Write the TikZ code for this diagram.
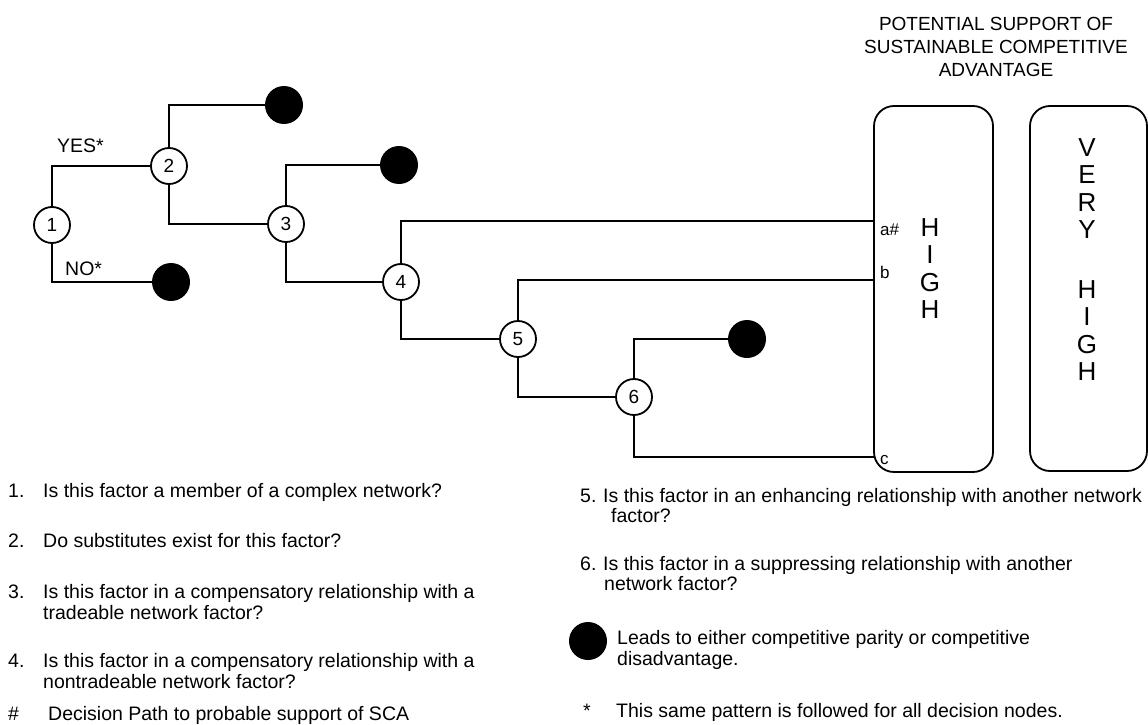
\documentclass[tikz,border=0pt]{standalone}
\usepackage{fontspec}
\setmainfont{Liberation Sans}
\begin{document}
\begin{tikzpicture}[x=1pt,y=-1pt,
  dec/.style={draw, circle, line width=1.8pt, minimum size=36pt, inner sep=0pt, fill=white, font=\fontsize{19}{19}\selectfont},
  endpt/.style={circle, fill=black, minimum size=38pt, inner sep=0pt},
  conn/.style={line width=1.8pt},
  txt/.style={anchor=base west, inner sep=0pt, font=\fontsize{19.5}{21}\selectfont},
  lbl/.style={anchor=base west, inner sep=0pt, font=\fontsize{17}{17}\selectfont},
  bigl/.style={anchor=north, align=center, inner sep=0pt, font=\fontsize{26}{27.5}\selectfont},
  outbox/.style={draw, line width=1.8pt, rounded corners=20pt, inner sep=0pt}
]
\useasboundingbox (0,0) rectangle (1148,725);

% title
\node[anchor=north, align=center, inner sep=0pt, font=\fontsize{19}{23}\selectfont] (title) at (996,17)
  {POTENTIAL SUPPORT OF\\SUSTAINABLE COMPETITIVE\\ADVANTAGE};

% outcome boxes
\node[outbox, minimum width=119pt, minimum height=366pt] (high) at (933.5,289) {};
\node[outbox, minimum width=117pt, minimum height=365pt] (vhigh) at (1088.5,288.5) {};
\node[bigl] (hightxt) at (930,218) {H\\I\\G\\H};
\node[bigl] (vhightxt) at (1087,138) {V\\E\\R\\Y\\[32pt]H\\I\\G\\H};

\coordinate (pa) at (874,221);
\coordinate (pb) at (874,280);
\coordinate (pc) at (874,457);
\node[lbl] (la) at (880,235) {a\#};
\node[lbl] (lb) at (880,278) {b};
\node[lbl] (lc) at (880,464) {c};

% decision nodes
\node[dec] (n1) at (52,225) {1};
\node[dec] (n2) at (169,166) {2};
\node[dec] (n3) at (286,224) {3};
\node[dec] (n4) at (401,282) {4};
\node[dec] (n5) at (518,339) {5};
\node[dec] (n6) at (634,397) {6};

% terminal (filled) nodes
\node[endpt] (d1) at (171,282) {};
\node[endpt] (d2) at (284,105) {};
\node[endpt] (d3) at (399,165) {};
\node[endpt] (d6) at (747,339) {};

% connectors
\draw[conn] (n1.north) |- (n2.west);
\draw[conn] (n1.south) |- (d1.west);
\draw[conn] (n2.north) |- (d2.west);
\draw[conn] (n2.south) |- (n3.west);
\draw[conn] (n3.north) |- (d3.west);
\draw[conn] (n3.south) |- (n4.west);
\draw[conn] (n4.north) |- (pa);
\draw[conn] (n4.south) |- (n5.west);
\draw[conn] (n5.north) |- (pb);
\draw[conn] (n5.south) |- (n6.west);
\draw[conn] (n6.north) |- (d6.west);
\draw[conn] (n6.south) |- (pc);

\node[txt] (yes) at (57,152) {YES*};
\node[txt] (no) at (65,275) {NO*};

% legend left column
\node[txt] (q1n) at (8,497) {1.};
\node[txt] (q1) at (43,497) {Is this factor a member of a complex network?};
\node[txt] (q2n) at (8,547) {2.};
\node[txt] (q2) at (43,547) {Do substitutes exist for this factor?};
\node[txt] (q3n) at (8,598) {3.};
\node[txt] (q3) at (43,598) {Is this factor in a compensatory relationship with a};
\node[txt] (q3b) at (43,619) {tradeable network factor?};
\node[txt] (q4n) at (8,667) {4.};
\node[txt] (q4) at (43,667) {Is this factor in a compensatory relationship with a};
\node[txt] (q4b) at (43,688) {nontradeable network factor?};
\node[txt] (hashn) at (8,720) {\#};
\node[txt] (hash) at (48,720) {Decision Path to probable support of SCA};

% legend right column
\node[txt] (q5n) at (580,502) {5.};
\node[txt] (q5) at (603,502) {Is this factor in an enhancing relationship with another network};
\node[txt] (q5b) at (611,522) {factor?};
\node[txt] (q6n) at (580,570) {6.};
\node[txt] (q6) at (603,570) {Is this factor in a suppressing relationship with another};
\node[txt] (q6b) at (604,590) {network factor?};
\node[endpt] (legdot) at (588,641) {};
\node[txt] (leg1) at (617,644) {Leads to either competitive parity or competitive};
\node[txt] (leg1b) at (617,665) {disadvantage.};
\node[txt] (starn) at (583,717) {*};
\node[txt] (star) at (616,717) {This same pattern is followed for all decision nodes.};
\end{tikzpicture}
\end{document}
